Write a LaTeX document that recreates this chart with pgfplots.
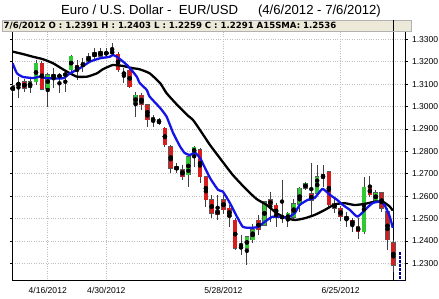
\documentclass[border=0pt]{standalone}
\usepackage{pgfplots}
\usepackage{pgfplotstable}
\pgfplotsset{compat=1.18}
\usepackage{fontspec}
\setmainfont{Liberation Sans}
\newfontfamily\dejavu{DejaVu Sans}
\definecolor{candleG}{RGB}{50,200,50}
\definecolor{candleR}{RGB}{215,30,30}
\definecolor{barbg}{RGB}{236,233,216}
\definecolor{smablue}{RGB}{20,20,230}

\pgfplotstableread{
i o h l c
0 1.3069 1.3100 1.3060 1.3092
1 1.3095 1.3133 1.3037 1.3105
3 1.3086 1.3126 1.3059 1.3111
4 1.3111 1.3208 1.3096 1.3193
6 1.3081 1.3148 1.2999 1.3141
9 1.3140 1.3155 1.3066 1.3145
10 1.3163 1.3230 1.3156 1.3225
12 1.3178 1.3215 1.3156 1.3195
13 1.3200 1.3237 1.3193 1.3222
14 1.3222 1.3260 1.3208 1.3240
15 1.3225 1.3260 1.3215 1.3245
17 1.3240 1.3282 1.3230 1.3245
21 1.3011 1.3066 1.2955 1.3051
24 1.2932 1.2962 1.2910 1.2950
30 1.2694 1.2785 1.2641 1.2775
31 1.2790 1.2825 1.2730 1.2818
39 1.2367 1.2426 1.2337 1.2375
40 1.2367 1.2419 1.2292 1.2419
41 1.2404 1.2475 1.2390 1.2449
43 1.2470 1.2580 1.2465 1.2575
47 1.2493 1.2528 1.2463 1.2523
48 1.2505 1.2585 1.2495 1.2566
49 1.2560 1.2642 1.2530 1.2635
50 1.2635 1.2664 1.2625 1.2657
52 1.2612 1.2738 1.2600 1.2687
53 1.2680 1.2738 1.2640 1.2695
55 1.2545 1.2590 1.2523 1.2568
60 1.2441 1.2685 1.2430 1.2640
62 1.2578 1.2625 1.2570 1.2615
}\greentab

\pgfplotstableread{
i o h l c
2 1.3111 1.3121 1.3066 1.3081
5 1.3193 1.3201 1.3075 1.3077
7 1.3144 1.3171 1.3081 1.3126
8 1.3140 1.3148 1.3059 1.3132
11 1.3185 1.3208 1.3118 1.3163
16 1.3240 1.3260 1.3215 1.3235
18 1.3234 1.3243 1.3156 1.3163
19 1.3150 1.3171 1.3104 1.3144
20 1.3163 1.3171 1.3081 1.3088
22 1.3051 1.3059 1.2984 1.3007
23 1.3007 1.3010 1.2910 1.2940
25 1.2940 1.2949 1.2916 1.2925
26 1.2903 1.2910 1.2821 1.2828
27 1.2820 1.2828 1.2701 1.2724
28 1.2731 1.2747 1.2702 1.2717
29 1.2717 1.2740 1.2672 1.2687
32 1.2806 1.2815 1.2658 1.2687
33 1.2687 1.2690 1.2553 1.2583
34 1.2583 1.2605 1.2502 1.2523
35 1.2538 1.2603 1.2492 1.2516
36 1.2583 1.2605 1.2521 1.2538
37 1.2545 1.2560 1.2463 1.2508
38 1.2493 1.2500 1.2360 1.2367
42 1.2493 1.2515 1.2426 1.2449
44 1.2583 1.2620 1.2486 1.2560
45 1.2560 1.2570 1.2460 1.2508
46 1.2510 1.2672 1.2479 1.2502
51 1.2610 1.2746 1.2516 1.2580
54 1.2710 1.2712 1.2545 1.2560
56 1.2545 1.2555 1.2490 1.2508
57 1.2508 1.2530 1.2463 1.2493
58 1.2493 1.2500 1.2441 1.2471
59 1.2463 1.2500 1.2409 1.2441
61 1.2640 1.2690 1.2595 1.2605
63 1.2614 1.2618 1.2530 1.2545
64 1.2530 1.2547 1.2360 1.2404
65 1.2391 1.2403 1.2259 1.2291
}\redtab

\pgfplotstableread{
x y
0 1.3193
0.75 1.3148
1.77 1.3132
3.48 1.3127
4.66 1.3133
5.87 1.3126
8.6 1.3126
9.8 1.3148
11.5 1.3171
13.2 1.3200
14.9 1.3215
16.6 1.3222
17.1 1.3230
17.8 1.3222
19.2 1.3193
20.0 1.3172
21.2 1.3133
21.7 1.3105
22.9 1.3074
23.4 1.3044
25.2 1.2993
26.3 1.2954
27.4 1.2882
28.6 1.2821
29.4 1.2792
30.3 1.2783
31.1 1.2794
32.0 1.2770
33.7 1.2681
35.1 1.2627
35.9 1.2620
37.1 1.2569
38.3 1.2508
39.3 1.2463
40.5 1.2458
41.9 1.2462
43.1 1.2486
44.3 1.2507
45.6 1.2508
47.0 1.2504
48.2 1.2525
49.0 1.2560
50.4 1.2583
51.6 1.2592
52.9 1.2632
54.2 1.2605
55.4 1.2583
56.4 1.2560
57.6 1.2538
58.9 1.2508
60.5 1.2547
61.5 1.2569
62.7 1.2575
63.5 1.2560
64.4 1.2508
64.9 1.2458
}\smafive

\pgfplotstableread{
x y
0 1.3245
1.77 1.3234
3.48 1.3222
5.19 1.3211
6.9 1.3193
8.6 1.3166
9.8 1.3148
11.0 1.3133
12.7 1.3133
14.4 1.3148
15.4 1.3166
17.1 1.3185
18.8 1.3181
20.5 1.3171
21.7 1.3166
23.4 1.3148
25.2 1.3104
26.3 1.3059
28.1 1.3007
29.8 1.2962
30.8 1.2940
32.0 1.2895
33.7 1.2828
35.4 1.2769
37.6 1.2694
40.0 1.2627
41.7 1.2586
43.4 1.2560
45.1 1.2523
46.8 1.2501
48.2 1.2493
49.9 1.2501
51.6 1.2516
53.3 1.2538
55.0 1.2563
56.7 1.2568
58.4 1.2560
60.1 1.2565
61.9 1.2575
63.2 1.2575
64.4 1.2553
64.9 1.2535
}\smafifteen

\begin{document}
\begin{tikzpicture}[x=1bp,y=1bp]
\path[use as bounding box] (-12.3,-17.3) rectangle (426.7,280.7);
\begin{axis}[
  width=392.7bp, height=249.7bp, scale only axis,
  xmin=-0.05, xmax=67, ymin=1.2222, ymax=1.3337,
  axis line style={black, line width=0.8bp},
  xtick={6,16,36,56},
  xticklabels={4/16/2012,4/30/2012,5/28/2012,6/25/2012},
  x tick label style={font=\fontsize{8.6}{10}\selectfont, yshift=-1bp},
  ytick={1.23,1.24,1.25,1.26,1.27,1.28,1.29,1.30,1.31,1.32,1.33},
  yticklabel pos=right,
  y tick label style={font=\fontsize{8.6}{10}\selectfont, xshift=1bp,
    /pgf/number format/.cd, fixed, fixed zerofill, precision=4, assume math mode=true},
  tick align=outside,
  x tick style={draw=none},
  y tick style={black, line width=0.6bp},
  major tick length=2.5bp,
  grid=major,
  major grid style={gray!50, dotted, line width=0.6bp},
]
% cursor line
\addplot[black, line width=0.9bp, forget plot] coordinates {(65,1.2222) (65,1.3337)};
% wicks
\addplot[only marks, mark=none, forget plot, error bars/.cd, y dir=both, y explicit, error mark=none,
  error bar style={line width=0.9bp, draw=black!75}]
  table[x=i, y expr={(\thisrow{h}+\thisrow{l})/2}, y error expr={(\thisrow{h}-\thisrow{l})/2}] {\greentab};
\addplot[only marks, mark=none, forget plot, error bars/.cd, y dir=both, y explicit, error mark=none,
  error bar style={line width=0.9bp, draw=black!75}]
  table[x=i, y expr={(\thisrow{h}+\thisrow{l})/2}, y error expr={(\thisrow{h}-\thisrow{l})/2}] {\redtab};
% body outlines
\addplot[only marks, mark=none, forget plot, error bars/.cd, y dir=both, y explicit, error mark=none,
  error bar style={line width=4.5bp, draw=black!65}]
  table[x=i, y expr={(\thisrow{o}+\thisrow{c})/2}, y error expr={abs(\thisrow{c}-\thisrow{o})/2+0.0002}] {\greentab};
\addplot[only marks, mark=none, forget plot, error bars/.cd, y dir=both, y explicit, error mark=none,
  error bar style={line width=4.5bp, draw=black!65}]
  table[x=i, y expr={(\thisrow{o}+\thisrow{c})/2}, y error expr={abs(\thisrow{c}-\thisrow{o})/2+0.0002}] {\redtab};
% body fills
\addplot[only marks, mark=none, forget plot, error bars/.cd, y dir=both, y explicit, error mark=none,
  error bar style={line width=3.7bp, draw=candleG}]
  table[x=i, y expr={(\thisrow{o}+\thisrow{c})/2}, y error expr={max(abs(\thisrow{c}-\thisrow{o})/2-0.00003,0.00003)}] {\greentab};
\addplot[only marks, mark=none, forget plot, error bars/.cd, y dir=both, y explicit, error mark=none,
  error bar style={line width=3.7bp, draw=candleR}]
  table[x=i, y expr={(\thisrow{o}+\thisrow{c})/2}, y error expr={max(abs(\thisrow{c}-\thisrow{o})/2-0.00003,0.00003)}] {\redtab};
% moving averages
\addplot[black, line width=2.3bp, line join=round, smooth, tension=0.3] table[x=x,y=y] {\smafifteen};
\addplot[smablue, line width=2.3bp, line join=round, smooth, tension=0.3] table[x=x,y=y] {\smafive};
% last price marker
\addplot[blue!60!black, line width=1.6bp, dash pattern=on 3bp off 1bp] coordinates {(66.1,1.2350) (66.1,1.2222)};
\end{axis}
\fill[barbg] (-10.3,249.7) rectangle (398.7,260.7);
\draw[gray!60, line width=0.5bp] (-10.3,249.7) rectangle (398.7,260.7);
\draw[black, line width=0.9bp] (381.3,249.7) -- (381.3,260.7);
\node[anchor=base west, inner sep=0pt, font=\dejavu\bfseries\fontsize{8.6}{10}\selectfont] at (-8.8,252.2)
  {7/6/2012 O : 1.2391 H : 1.2403 L : 1.2259 C : 1.2291 A15SMA: 1.2536};
\node[anchor=base west, inner sep=0pt, font=\fontsize{13.2}{15}\selectfont] at (48.7,266.7)
  {Euro / U.S. Dollar -\ \ EUR/USD\hspace{20bp}(4/6/2012 - 7/6/2012)};
\end{tikzpicture}
\end{document}
